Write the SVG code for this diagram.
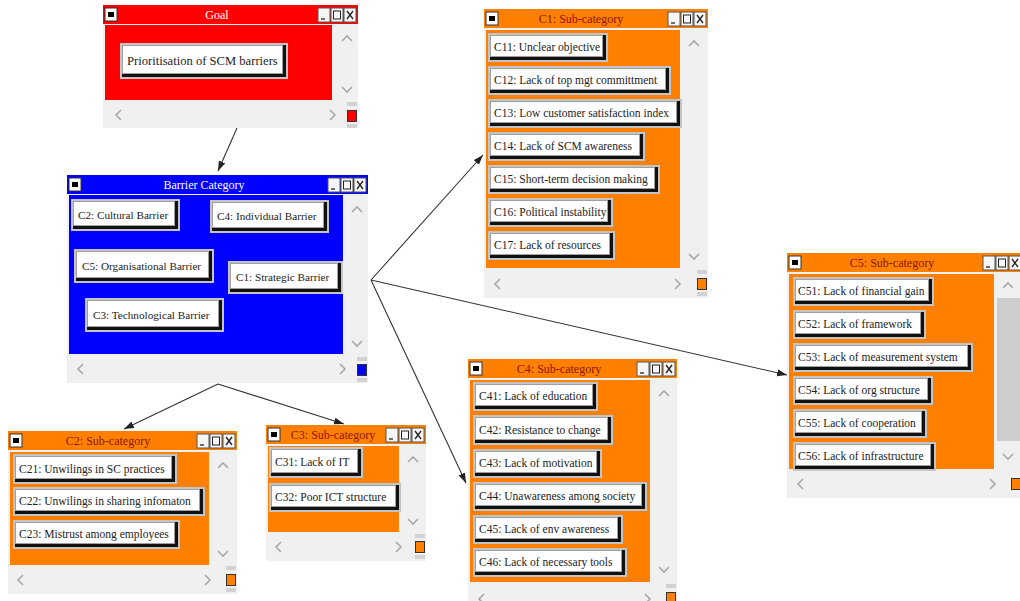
<svg xmlns="http://www.w3.org/2000/svg" width="1020" height="601" viewBox="0 0 1020 601">
<style>
.win{fill:#f0f0f0}
.bo{fill:#c4c4c4}
.bs{fill:#111}
.bf{fill:#fff;stroke:#a0a0a0;stroke-width:1}
.bt{font-family:"Liberation Serif","Times New Roman",serif;font-size:11.5px;fill:#222}
.tt{font-family:"Liberation Serif","Times New Roman",serif;font-size:12px;text-anchor:middle}
.tw{fill:#fff}
.to{fill:#8a1500}
.chev{fill:none;stroke:#a8a8a8;stroke-width:1.6}
.ic{fill:#f6f6f6;stroke:#555;stroke-width:1}
.icl{fill:#fff;stroke:#333;stroke-width:1}
.icb{fill:#000}
.icx{stroke:#222;stroke-width:1.3;fill:none}
.sq{stroke:#333;stroke-width:1}
.sqb{fill:#d2d2d2}
.conn{stroke:#333;stroke-width:1.1;fill:none;marker-end:url(#ah)}
</style>
<defs>
<marker id="ah" markerUnits="userSpaceOnUse" markerWidth="10" markerHeight="8" refX="10" refY="4" orient="auto">
<path d="M0,0.5 L10,4 L0,7.5 z" fill="#222"/>
</marker>
</defs>
<rect x="0" y="0" width="1020" height="601" fill="#fff"/>

<g id="connectors">
<line class="conn" x1="237" y1="128" x2="218" y2="171"/>
<line class="conn" x1="371" y1="280" x2="483" y2="155"/>
<line class="conn" x1="371" y1="280" x2="787" y2="375"/>
<line class="conn" x1="371" y1="280" x2="466" y2="483"/>
<line class="conn" x1="218" y1="384" x2="124" y2="429"/>
<line class="conn" x1="218" y1="384" x2="344" y2="424"/>
</g>

<!-- Goal window -->
<g id="goal">
<rect class="win" x="103" y="5" width="255" height="123"/>
<rect x="103" y="5" width="255" height="19" fill="#ff0000"/>
<rect x="105" y="25" width="227" height="75" fill="#ff0000"/>
<rect class="icl" x="105" y="8" width="12" height="13"/><rect class="icb" x="108" y="12" width="6" height="5"/>
<rect class="ic" x="318" y="8" width="12" height="14"/><line class="icx" x1="321" y1="19" x2="325" y2="19"/>
<rect class="ic" x="331" y="8" width="12" height="14"/><rect x="333.5" y="11" width="7" height="8" fill="none" stroke="#222"/>
<rect class="ic" x="344" y="8" width="12" height="14"/><path class="icx" d="M347,11 L353,19 M353,11 L347,19"/>
<text class="tt tw" x="217" y="19">Goal</text>
<path class="chev" d="M342,41 L347,36 L352,41"/>
<path class="chev" d="M342,87 L347,92 L352,87"/>
<path class="chev" d="M121,110 L116,115 L121,120"/>
<path class="chev" d="M330,110 L335,115 L330,120"/>
<rect class="sqb" x="347" y="102" width="10" height="4"/>
<rect class="sq" x="347.5" y="110.5" width="9" height="11" fill="#ff0000"/>
<rect class="sqb" x="347" y="124" width="10" height="4"/>
<g id="goal-btn">
<rect class="bo" x="120" y="43" width="168" height="36"/>
<rect class="bs" x="122" y="45" width="164" height="32"/>
<rect class="bf" x="122.5" y="45.5" width="160" height="28"/>
<text class="bt" x="127" y="65" style="font-size:12.6px">Prioritisation of SCM barriers</text>
</g>
</g>

<!-- Barrier Category window -->
<g id="barrier">
<rect class="win" x="67" y="175" width="301" height="208"/>
<rect x="67" y="175" width="301" height="19" fill="#0000ff"/>
<rect x="69" y="195" width="274" height="159" fill="#0000ff"/>
<rect class="icl" x="69" y="178" width="12" height="13"/><rect class="icb" x="72" y="182" width="6" height="5"/>
<rect class="ic" x="328" y="178" width="12" height="14"/><line class="icx" x1="331" y1="189" x2="335" y2="189"/>
<rect class="ic" x="341" y="178" width="12" height="14"/><rect x="343.5" y="181" width="7" height="8" fill="none" stroke="#222"/>
<rect class="ic" x="354" y="178" width="12" height="14"/><path class="icx" d="M357,181 L363,189 M363,181 L357,189"/>
<text class="tt tw" x="204" y="189">Barrier Category</text>
<path class="chev" d="M352,212 L357,207 L362,212"/>
<path class="chev" d="M352,341 L357,346 L362,341"/>
<path class="chev" d="M83,364 L78,369 L83,374"/>
<path class="chev" d="M340,364 L345,369 L340,374"/>
<rect class="sqb" x="357" y="357" width="10" height="4"/>
<rect class="sq" x="357.5" y="364.5" width="9" height="11" fill="#0000ff"/>
<rect class="sqb" x="357" y="378" width="10" height="4"/>
<g id="c2">
<rect class="bo" x="71" y="199" width="109" height="32"/><rect class="bs" x="73" y="201" width="105" height="28"/><rect class="bf" x="73.5" y="201.5" width="101" height="24"/>
<text class="bt" x="78" y="219" style="font-size:11.2px">C2: Cultural Barrier</text></g>
<g id="c4">
<rect class="bo" x="210" y="200" width="119" height="33"/><rect class="bs" x="212" y="202" width="115" height="29"/><rect class="bf" x="212.5" y="202.5" width="111" height="25"/>
<text class="bt" x="217" y="220" style="font-size:11.2px">C4: Individual Barrier</text></g>
<g id="c5">
<rect class="bo" x="74" y="249" width="140" height="34"/><rect class="bs" x="76" y="251" width="136" height="30"/><rect class="bf" x="76.5" y="251.5" width="132" height="26"/>
<text class="bt" x="82" y="270" style="font-size:11.2px">C5: Organisational Barrier</text></g>
<g id="c1">
<rect class="bo" x="228" y="261" width="115" height="33"/><rect class="bs" x="230" y="263" width="111" height="29"/><rect class="bf" x="230.5" y="263.5" width="107" height="25"/>
<text class="bt" x="236" y="281" style="font-size:11.2px">C1: Strategic Barrier</text></g>
<g id="c3">
<rect class="bo" x="85" y="298" width="139" height="34"/><rect class="bs" x="87" y="300" width="135" height="30"/><rect class="bf" x="87.5" y="300.5" width="131" height="26"/>
<text class="bt" x="93" y="319" style="font-size:11.2px">C3: Technological Barrier</text></g>
</g>

<!-- C1 Sub-category -->
<g id="c1-sub">
<rect class="win" x="484" y="9" width="224" height="289"/>
<rect x="484" y="9" width="224" height="19" fill="#ff8000"/>
<rect x="486" y="30" width="194" height="238" fill="#ff8000"/>
<rect class="icl" x="486" y="12" width="12" height="13"/><rect class="icb" x="489" y="16" width="6" height="5"/>
<rect class="ic" x="668" y="12" width="12" height="14"/><line class="icx" x1="671" y1="23" x2="675" y2="23"/>
<rect class="ic" x="681" y="12" width="12" height="14"/><rect x="683.5" y="15" width="7" height="8" fill="none" stroke="#222"/>
<rect class="ic" x="694" y="12" width="12" height="14"/><path class="icx" d="M697,15 L703,23 M703,15 L697,23"/>
<text class="tt to" x="581" y="23">C1: Sub-category</text>
<path class="chev" d="M689,46 L694,41 L699,46"/>
<path class="chev" d="M689,254 L694,259 L699,254"/>
<path class="chev" d="M500,279 L495,284 L500,289"/>
<path class="chev" d="M675,279 L680,284 L675,289"/>
<rect class="sqb" x="697" y="270" width="10" height="4"/>
<rect class="sq" x="697.5" y="278.5" width="9" height="11" fill="#ff8000"/>
<rect class="sqb" x="697" y="292" width="10" height="4"/>
<g id="c11"><rect class="bo" x="488" y="33" width="120" height="29"/><rect class="bs" x="490" y="35" width="116" height="25"/><rect class="bf" x="490.5" y="35.5" width="112" height="21"/><text class="bt" x="494" y="51">C11: Unclear objective</text></g>
<g id="c12"><rect class="bo" x="488" y="66" width="183" height="29"/><rect class="bs" x="490" y="68" width="179" height="25"/><rect class="bf" x="490.5" y="68.5" width="175" height="21"/><text class="bt" x="494" y="84">C12: Lack of top mgt committment</text></g>
<g id="c13"><rect class="bo" x="488" y="99" width="194" height="29"/><rect class="bs" x="490" y="101" width="190" height="25"/><rect class="bf" x="490.5" y="101.5" width="186" height="21"/><text class="bt" x="494" y="117">C13: Low customer satisfaction index</text></g>
<g id="c14"><rect class="bo" x="488" y="132" width="157" height="29"/><rect class="bs" x="490" y="134" width="153" height="25"/><rect class="bf" x="490.5" y="134.5" width="149" height="21"/><text class="bt" x="494" y="150">C14: Lack of SCM awareness</text></g>
<g id="c15"><rect class="bo" x="488" y="165" width="172" height="29"/><rect class="bs" x="490" y="167" width="168" height="25"/><rect class="bf" x="490.5" y="167.5" width="164" height="21"/><text class="bt" x="494" y="183">C15: Short-term decision making</text></g>
<g id="c16"><rect class="bo" x="488" y="198" width="125" height="29"/><rect class="bs" x="490" y="200" width="121" height="25"/><rect class="bf" x="490.5" y="200.5" width="117" height="21"/><text class="bt" x="494" y="216">C16: Political instability</text></g>
<g id="c17"><rect class="bo" x="488" y="231" width="127" height="29"/><rect class="bs" x="490" y="233" width="123" height="25"/><rect class="bf" x="490.5" y="233.5" width="119" height="21"/><text class="bt" x="494" y="249">C17: Lack of resources</text></g>
</g>

<!-- C5 Sub-category -->
<g id="c5-sub">
<rect class="win" x="787" y="253" width="236" height="245"/>
<rect x="787" y="253" width="236" height="19" fill="#ff8000"/>
<rect x="789" y="274" width="205" height="195" fill="#ff8000"/>
<rect x="997" y="298" width="23" height="143" fill="#cdcdcd"/>
<rect class="icl" x="789" y="256" width="12" height="13"/><rect class="icb" x="792" y="260" width="6" height="5"/>
<rect class="ic" x="983" y="256" width="12" height="14"/><line class="icx" x1="986" y1="267" x2="990" y2="267"/>
<rect class="ic" x="996" y="256" width="12" height="14"/><rect x="998.5" y="259" width="7" height="8" fill="none" stroke="#222"/>
<rect class="ic" x="1009" y="256" width="12" height="14"/><path class="icx" d="M1012,259 L1018,267 M1018,259 L1012,267"/>
<text class="tt to" x="892" y="267">C5: Sub-category</text>
<path class="chev" d="M1003,288 L1008,283 L1013,288"/>
<path class="chev" d="M1003,454 L1008,459 L1013,454"/>
<path class="chev" d="M803,479 L798,484 L803,489"/>
<path class="chev" d="M990,479 L995,484 L990,489"/>
<rect class="sq" x="1011.5" y="478.5" width="9" height="11" fill="#ff8000"/>
<g id="c51"><rect class="bo" x="793" y="277" width="141" height="29"/><rect class="bs" x="795" y="279" width="137" height="25"/><rect class="bf" x="795.5" y="279.5" width="133" height="21"/><text class="bt" x="798" y="295">C51: Lack of financial gain</text></g>
<g id="c52"><rect class="bo" x="793" y="310" width="133" height="29"/><rect class="bs" x="795" y="312" width="129" height="25"/><rect class="bf" x="795.5" y="312.5" width="125" height="21"/><text class="bt" x="798" y="328">C52: Lack of framework</text></g>
<g id="c53"><rect class="bo" x="793" y="343" width="180" height="29"/><rect class="bs" x="795" y="345" width="176" height="25"/><rect class="bf" x="795.5" y="345.5" width="172" height="21"/><text class="bt" x="798" y="361">C53: Lack of measurement system</text></g>
<g id="c54"><rect class="bo" x="793" y="376" width="140" height="29"/><rect class="bs" x="795" y="378" width="136" height="25"/><rect class="bf" x="795.5" y="378.5" width="132" height="21"/><text class="bt" x="798" y="394">C54: Lack of org structure</text></g>
<g id="c55"><rect class="bo" x="793" y="409" width="134" height="29"/><rect class="bs" x="795" y="411" width="130" height="25"/><rect class="bf" x="795.5" y="411.5" width="126" height="21"/><text class="bt" x="798" y="427">C55: Lack of cooperation</text></g>
<g id="c56"><rect class="bo" x="793" y="442" width="143" height="29"/><rect class="bs" x="795" y="444" width="139" height="25"/><rect class="bf" x="795.5" y="444.5" width="135" height="21"/><text class="bt" x="798" y="460">C56: Lack of infrastructure</text></g>
</g>

<!-- C4 Sub-category -->
<g id="c4-sub">
<rect class="win" x="468" y="359" width="209" height="250"/>
<rect x="468" y="359" width="209" height="19" fill="#ff8000"/>
<rect x="470" y="380" width="180" height="202" fill="#ff8000"/>
<rect class="icl" x="470" y="362" width="12" height="13"/><rect class="icb" x="473" y="366" width="6" height="5"/>
<rect class="ic" x="637" y="362" width="12" height="14"/><line class="icx" x1="640" y1="373" x2="644" y2="373"/>
<rect class="ic" x="650" y="362" width="12" height="14"/><rect x="652.5" y="365" width="7" height="8" fill="none" stroke="#222"/>
<rect class="ic" x="663" y="362" width="12" height="14"/><path class="icx" d="M666,365 L672,373 M672,365 L666,373"/>
<text class="tt to" x="559" y="373">C4: Sub-category</text>
<path class="chev" d="M659,396 L664,391 L669,396"/>
<path class="chev" d="M659,567 L664,572 L669,567"/>
<path class="chev" d="M484,594 L479,599 L484,604"/>
<path class="chev" d="M645,594 L650,599 L645,604"/>
<rect class="sqb" x="666" y="584" width="10" height="4"/>
<rect class="sq" x="666.5" y="592.5" width="9" height="11" fill="#ff8000"/>
<g id="c41"><rect class="bo" x="473" y="382" width="125" height="29"/><rect class="bs" x="475" y="384" width="121" height="25"/><rect class="bf" x="475.5" y="384.5" width="117" height="21"/><text class="bt" x="479" y="400">C41: Lack of education</text></g>
<g id="c42"><rect class="bo" x="473" y="415" width="140" height="30"/><rect class="bs" x="475" y="417" width="136" height="26"/><rect class="bf" x="475.5" y="417.5" width="132" height="22"/><text class="bt" x="479" y="434">C42: Resistance to change</text></g>
<g id="c43"><rect class="bo" x="473" y="449" width="129" height="29"/><rect class="bs" x="475" y="451" width="125" height="25"/><rect class="bf" x="475.5" y="451.5" width="121" height="21"/><text class="bt" x="479" y="467">C43: Lack of motivation</text></g>
<g id="c44"><rect class="bo" x="473" y="482" width="174" height="29"/><rect class="bs" x="475" y="484" width="170" height="25"/><rect class="bf" x="475.5" y="484.5" width="166" height="21"/><text class="bt" x="479" y="500">C44: Unawareness among society</text></g>
<g id="c45"><rect class="bo" x="473" y="515" width="150" height="29"/><rect class="bs" x="475" y="517" width="146" height="25"/><rect class="bf" x="475.5" y="517.5" width="142" height="21"/><text class="bt" x="479" y="533">C45: Lack of env awareness</text></g>
<g id="c46"><rect class="bo" x="473" y="548" width="154" height="29"/><rect class="bs" x="475" y="550" width="150" height="25"/><rect class="bf" x="475.5" y="550.5" width="146" height="21"/><text class="bt" x="479" y="566">C46: Lack of necessary tools</text></g>
</g>

<!-- C2 Sub-category -->
<g id="c2-sub">
<rect class="win" x="8" y="431" width="229" height="163"/>
<rect x="8" y="431" width="229" height="19" fill="#ff8000"/>
<rect x="10" y="452" width="199" height="113" fill="#ff8000"/>
<rect class="icl" x="10" y="434" width="12" height="13"/><rect class="icb" x="13" y="438" width="6" height="5"/>
<rect class="ic" x="197" y="434" width="12" height="14"/><line class="icx" x1="200" y1="445" x2="204" y2="445"/>
<rect class="ic" x="210" y="434" width="12" height="14"/><rect x="212.5" y="437" width="7" height="8" fill="none" stroke="#222"/>
<rect class="ic" x="223" y="434" width="12" height="14"/><path class="icx" d="M226,437 L232,445 M232,437 L226,445"/>
<text class="tt to" x="108" y="445">C2: Sub-category</text>
<path class="chev" d="M218,468 L223,463 L228,468"/>
<path class="chev" d="M218,551 L223,556 L228,551"/>
<path class="chev" d="M23,575 L18,580 L23,585"/>
<path class="chev" d="M205,575 L210,580 L205,585"/>
<rect class="sqb" x="226" y="566" width="10" height="4"/>
<rect class="sq" x="226.5" y="574.5" width="9" height="11" fill="#ff8000"/>
<rect class="sqb" x="226" y="588" width="10" height="4"/>
<g id="c21"><rect class="bo" x="13" y="454" width="164" height="30"/><rect class="bs" x="15" y="456" width="160" height="26"/><rect class="bf" x="15.5" y="456.5" width="156" height="22"/><text class="bt" x="19" y="473">C21: Unwilings in SC practices</text></g>
<g id="c22"><rect class="bo" x="13" y="487" width="192" height="29"/><rect class="bs" x="15" y="489" width="188" height="25"/><rect class="bf" x="15.5" y="489.5" width="184" height="21"/><text class="bt" x="19" y="505">C22: Unwilings in sharing infomaton</text></g>
<g id="c23"><rect class="bo" x="13" y="520" width="167" height="29"/><rect class="bs" x="15" y="522" width="163" height="25"/><rect class="bf" x="15.5" y="522.5" width="159" height="21"/><text class="bt" x="19" y="538">C23: Mistrust among employees</text></g>
</g>

<!-- C3 Sub-category -->
<g id="c3-sub">
<rect class="win" x="266" y="425" width="160" height="136"/>
<rect x="266" y="425" width="160" height="19" fill="#ff8000"/>
<rect x="268" y="446" width="131" height="86" fill="#ff8000"/>
<rect class="icl" x="268" y="428" width="12" height="13"/><rect class="icb" x="271" y="432" width="6" height="5"/>
<rect class="ic" x="386" y="428" width="12" height="14"/><line class="icx" x1="389" y1="439" x2="393" y2="439"/>
<rect class="ic" x="399" y="428" width="12" height="14"/><rect x="401.5" y="431" width="7" height="8" fill="none" stroke="#222"/>
<rect class="ic" x="412" y="428" width="12" height="14"/><path class="icx" d="M415,431 L421,439 M421,431 L415,439"/>
<text class="tt to" x="333" y="439">C3: Sub-category</text>
<path class="chev" d="M408,462 L413,457 L418,462"/>
<path class="chev" d="M408,519 L413,524 L418,519"/>
<path class="chev" d="M281,542 L276,547 L281,552"/>
<path class="chev" d="M396,542 L401,547 L396,552"/>
<rect class="sqb" x="415" y="534" width="10" height="4"/>
<rect class="sq" x="415.5" y="541.5" width="9" height="11" fill="#ff8000"/>
<rect class="sqb" x="415" y="555" width="10" height="4"/>
<g id="c31"><rect class="bo" x="269" y="447" width="94" height="31"/><rect class="bs" x="271" y="449" width="90" height="27"/><rect class="bf" x="271.5" y="449.5" width="86" height="23"/><text class="bt" x="275" y="466">C31: Lack of IT</text></g>
<g id="c32"><rect class="bo" x="269" y="483" width="132" height="29"/><rect class="bs" x="271" y="485" width="128" height="25"/><rect class="bf" x="271.5" y="485.5" width="124" height="21"/><text class="bt" x="275" y="501">C32: Poor ICT structure</text></g>
</g>
</svg>
